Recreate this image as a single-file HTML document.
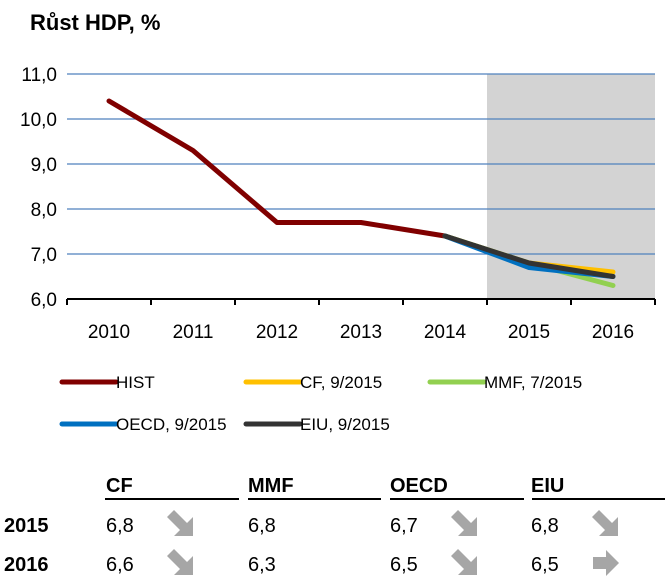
<!DOCTYPE html>
<html><head><meta charset="utf-8"><style>
body{margin:0;width:670px;height:583px;background:#fff;font-family:"Liberation Sans",sans-serif;overflow:hidden}
svg text{font-family:"Liberation Sans",sans-serif}
</style></head><body>
<svg id="c" width="670" height="583">
<text x="30" y="30" font-size="22" font-weight="bold" fill="#000">Růst HDP, %</text>
</svg>
<script>
const years=["2010","2011","2012","2013","2014","2015","2016"];
const yTicks=[6,7,8,9,10,11];
const hist=[10.4,9.3,7.7,7.7,7.4,null,null];
const cf=[null,null,null,null,7.4,6.8,6.6];
const mmf=[null,null,null,null,7.4,6.8,6.3];
const oecd=[null,null,null,null,7.4,6.7,6.5];
const eiu=[null,null,null,null,7.4,6.8,6.5];
const tableCols=["CF","MMF","OECD","EIU"];
const row2015=["6,8","6,8","6,7","6,8"];
const row2016=["6,6","6,3","6,5","6,5"];
const arrows2015=["down","none","down","down"];
const arrows2016=["down","none","down","right"];

const NS="http://www.w3.org/2000/svg";
const svg=document.getElementById('c');
const X0=67,BW=84,Y0=299,UNIT=45,YMIN=6;
const xc=i=>X0+BW*(i+0.5);
const y=v=>Y0-(v-YMIN)*UNIT;
function mk(t,a,p){const e=document.createElementNS(NS,t);for(const k in a)e.setAttribute(k,a[k]);(p||svg).appendChild(e);return e;}

const shade=mk('rect',{x:X0+BW*5,y:y(11),width:BW*2,height:Y0-y(11),fill:'#d3d3d3'});


yTicks.forEach(v=>{
 if(v>YMIN){const g=mk('line',{x1:X0,x2:X0+BW*7,y1:y(v),y2:y(v),stroke:'#4f81bd','stroke-width':1.3});
 
 }
 const t=mk('text',{x:57,y:y(v)+7,'text-anchor':'end','font-size':19,fill:'#000'});t.textContent=v.toFixed(1).replace('.',',');
 
 
});
const ax=mk('line',{x1:X0,x2:X0+BW*7,y1:Y0,y2:Y0,stroke:'#000','stroke-width':2});


for(let i=0;i<=7;i++){const tk=mk('line',{x1:X0+BW*i,x2:X0+BW*i,y1:Y0,y2:Y0+6,stroke:'#000','stroke-width':2});
 
 }
years.forEach((yr,i)=>{const t=mk('text',{x:xc(i),y:338,'text-anchor':'middle','font-size':19,fill:'#000'});t.textContent=yr;
 
 });

function line(arr,col,name,w){
 const pts=[];arr.forEach((v,i)=>{if(v!==null)pts.push(xc(i)+','+y(v));});
 const p=mk('polyline',{points:pts.join(' '),fill:'none',stroke:col,'stroke-width':w,'stroke-linejoin':'round','stroke-linecap':'round'});
 
 
}
line(hist,'#800000','series-hist',5);
line(cf,'#ffc000','series-cf',5);
line(mmf,'#92d050','series-mmf',5);
line(oecd,'#0070c0','series-oecd',5);
line(eiu,'#333333','series-eiu',5);

const leg=[["HIST","#800000",62,382],["CF, 9/2015","#ffc000",246,382],["MMF, 7/2015","#92d050",430,382],["OECD, 9/2015","#0070c0",62,424],["EIU, 9/2015","#333333",246,424]];
leg.forEach(l=>{
 const g=mk('g',{});
 
 
 mk('line',{x1:l[2],x2:l[2]+54,y1:l[3],y2:l[3],stroke:l[1],'stroke-width':5,'stroke-linecap':'round'},g);
 const t=mk('text',{x:l[2]+54,y:l[3]+6,'font-size':17,fill:'#000'},g);t.textContent=l[0];
});

const colX=[106,248,390,531];
const lineX=[[105,239],[248,381],[390,524],[532,665]];
tableCols.forEach((c,i)=>{
 const t=mk('text',{x:colX[i],y:492,'font-size':20,'font-weight':'bold',fill:'#000'});t.textContent=c;
 
 
 const u=mk('line',{x1:lineX[i][0],x2:lineX[i][1],y1:499,y2:499,stroke:'#000','stroke-width':2});
 
 
});
function arrow(kind,cx,cy){
 if(kind==='none')return;
 let d;
 if(kind==='right')d='M-13,-6 L0,-6 L0,-13 L13,0 L0,13 L0,6 L-13,6 Z';
 else d='M-7,-14 L-14,-7 L-1,6 L-7,12 L12,12 L12,-7 L6,-1 Z';
 const p=mk('path',{d:d,transform:`translate(${cx},${cy})`,fill:'#a6a6a6'});
 
 
}
[["2015",row2015,arrows2015,532],["2016",row2016,arrows2016,571]].forEach(r=>{
 const t=mk('text',{x:4,y:r[3],'font-size':20,'font-weight':'bold',fill:'#000'});t.textContent=r[0];
 
 
 r[1].forEach((v,i)=>{
  const c=mk('text',{x:colX[i],y:r[3],'font-size':20,fill:'#000'});c.textContent=v;
  
  
  arrow(r[2][i],colX[i]+75,r[3]-8);
 });
});
</script>
</body></html>
